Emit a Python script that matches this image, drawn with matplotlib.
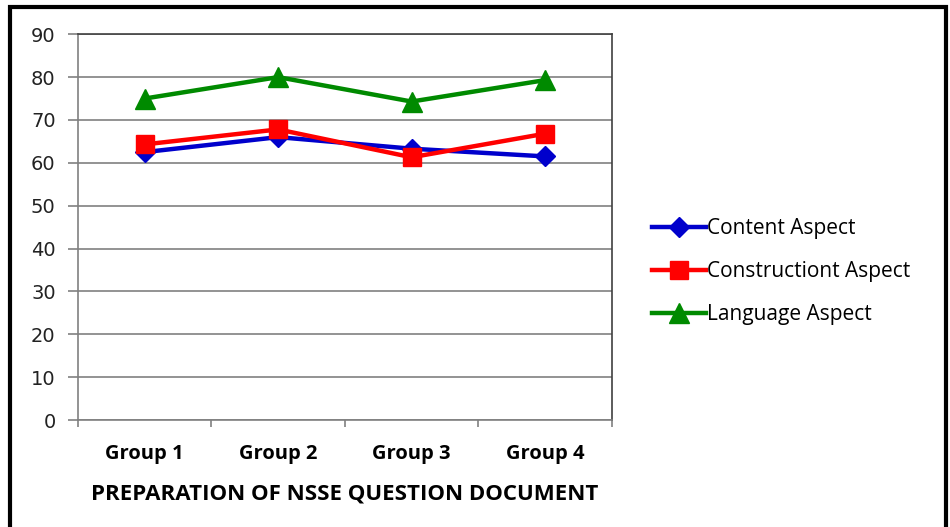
import matplotlib.pyplot as plt
from matplotlib.patches import Rectangle

groups = ["Group 1", "Group 2", "Group 3", "Group 4"]
content = [62.5, 66.0, 63.3, 61.5]
construction = [64.3, 67.8, 61.3, 66.8]
language = [75.0, 80.0, 74.3, 79.3]

fig = plt.figure(figsize=(9.5, 5.27), dpi=100)
ax = fig.add_axes([0.082, 0.203, 0.562, 0.732])

x = [i + 0.5 for i in range(len(groups))]
ax.plot(x, content, color="#0000CC", lw=3.2, marker="D", ms=10, label="Content Aspect", zorder=3)
ax.plot(x, construction, color="#FF0000", lw=3.2, marker="s", ms=13, label="Constructiont Aspect", zorder=4)
ax.plot(x, language, color="#008A00", lw=3.2, marker="^", ms=14, label="Language Aspect", zorder=3)

ax.set_xlim(0, 4)
ax.set_ylim(0, 90)
ax.set_yticks(range(0, 91, 10))
ax.set_xticks(range(0, 5))
ax.set_xticklabels([])
ax.set_xticks(x, minor=True)
ax.set_xticklabels(groups, minor=True, fontsize=14.5, fontweight="bold", family="Open Sans")
ax.tick_params(axis="x", which="minor", length=0, pad=17)
ax.tick_params(axis="x", which="major", length=5, width=1.2, color="#808080", direction="out")
ax.tick_params(axis="y", length=7, width=1.2, color="#808080", labelsize=14, pad=9)
for lab in ax.get_yticklabels():
    lab.set_family("DejaVu Sans")
    lab.set_color("#222222")

ax.grid(axis="y", color="#808080", lw=1.2)
ax.set_axisbelow(True)
for s in ax.spines.values():
    s.set_color("#808080")
    s.set_linewidth(1.2)
ax.spines["right"].set_color("#404040")
ax.spines["top"].set_color("#404040")

ax.set_xlabel("PREPARATION OF NSSE QUESTION DOCUMENT", fontsize=16, fontweight="bold",
              family="Open Sans", labelpad=14)

ax.legend(loc="center left", bbox_to_anchor=(1.04, 0.385), frameon=False,
          prop={"family": "Open Sans", "size": 15}, handlelength=2.6, handletextpad=0.05,
          labelspacing=1.05)

# outer chart border
fig.patches.append(Rectangle((10 / 950, -0.05), 936 / 950, 1.05 - 7 / 527,
                             transform=fig.transFigure, fill=False, lw=3,
                             edgecolor="black"))

fig.savefig("out.png", dpi=100)
